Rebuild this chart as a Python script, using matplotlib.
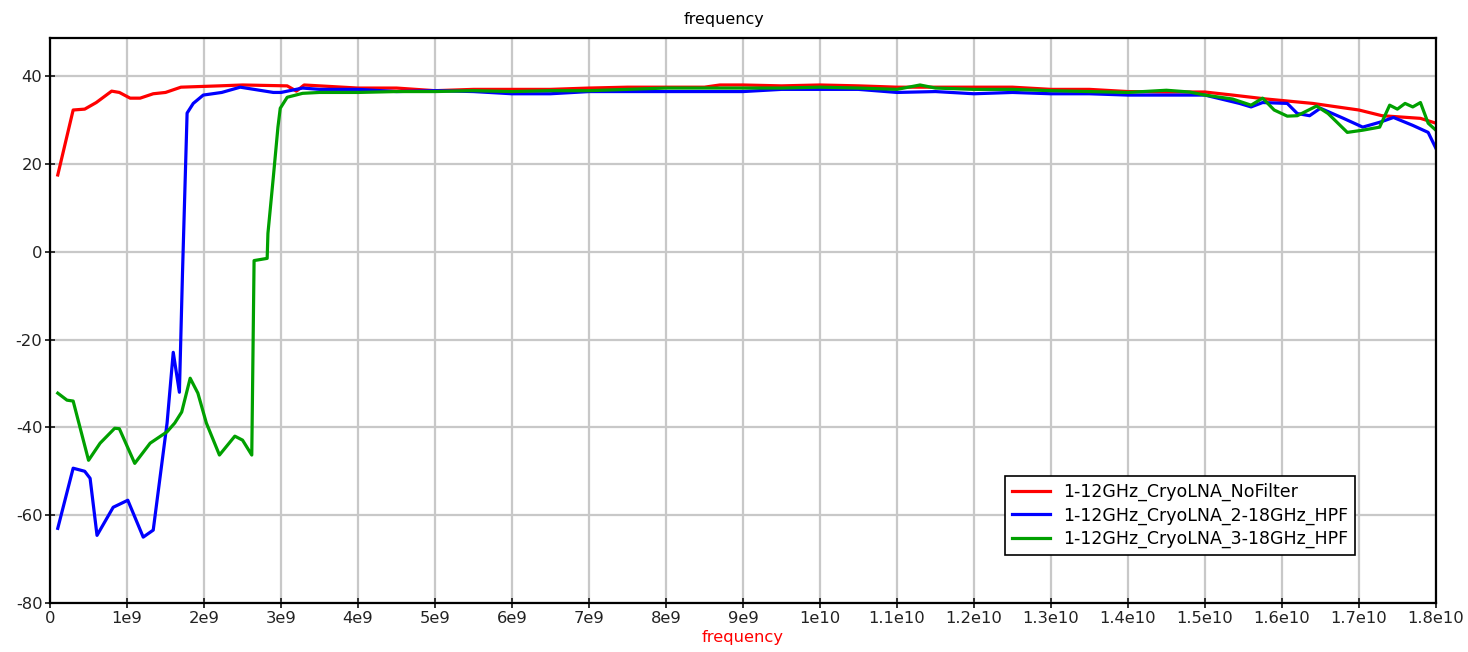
import matplotlib
matplotlib.use("Agg")
from matplotlib import pyplot as plt

# frequency in GHz, gain in dB
f_nofilter = [0.1, 0.3, 0.45, 0.6, 0.8, 0.9, 1.04, 1.17, 1.34, 1.5, 1.7, 2.2, 2.5, 3.08, 3.2, 3.3,
              4.0, 4.5, 5.0, 5.5, 6.0, 6.5, 7.0, 7.5, 8.0, 8.5, 8.7, 9.0, 9.5, 10.0, 10.5, 11.0,
              11.5, 12.0, 12.5, 13.0, 13.5, 14.0, 14.5, 15.0, 15.36, 15.8, 16.4, 17.0, 17.3, 17.8, 18.0]
g_nofilter = [17.5, 32.3, 32.5, 34, 36.6, 36.3, 35, 35, 36, 36.3, 37.5, 37.8, 38, 37.8, 36.6, 38,
              37.3, 37.3, 36.7, 37, 37, 37, 37.3, 37.5, 37.5, 37.5, 38, 38, 37.8, 38, 37.8, 37.5,
              37.5, 37.5, 37.5, 37, 37, 36.5, 36.4, 36.4, 35.7, 34.8, 33.8, 32.3, 31, 30.4, 29.3]

f_hpf2 = [0.1, 0.3, 0.45, 0.52, 0.61, 0.82, 1.01, 1.21, 1.34, 1.52, 1.6, 1.68, 1.72, 1.78, 1.86,
          1.99, 2.23, 2.47, 2.9, 3.0, 3.28, 3.5, 4.0, 4.5, 5.0, 5.5, 6.0, 6.5, 7.0, 7.5, 8.0, 8.5,
          9.0, 9.5, 10.0, 10.5, 11.0, 11.5, 12.0, 12.5, 13.0, 13.5, 14.0, 14.3, 15.0, 15.45, 15.6,
          15.75, 16.07, 16.2, 16.36, 16.5, 16.8, 17.05, 17.27, 17.45, 17.7, 17.9, 18.0]
g_hpf2 = [-63, -49.3, -50, -51.6, -64.6, -58.2, -56.6, -65, -63.4, -39, -22.9, -32, -5, 31.6, 33.8,
          35.7, 36.3, 37.5, 36.3, 36.3, 37.3, 37, 37, 36.5, 36.7, 36.5, 36, 36, 36.5, 36.5, 36.5, 36.5,
          36.5, 37, 37, 37, 36.3, 36.5, 36, 36.3, 36, 36, 35.7, 35.7, 35.7, 33.8, 33,
          34, 33.8, 31.5, 31, 32.7, 30.4, 28.4, 29.5, 30.6, 28.8, 27.2, 23.6]

f_hpf3 = [0.1, 0.22, 0.3, 0.5, 0.65, 0.84, 0.9, 1.1, 1.3, 1.52, 1.62, 1.71, 1.82, 1.92, 2.03, 2.2,
          2.4, 2.5, 2.62, 2.65, 2.82, 2.83, 2.9, 2.96, 2.99, 3.08, 3.28, 3.5, 4.0, 4.5, 5.0, 5.5,
          6.0, 6.5, 7.0, 7.5, 8.0, 8.5, 9.0, 9.5, 10.0, 10.5, 11.0, 11.3, 11.5, 12.0, 12.5, 13.0,
          13.5, 14.0, 14.5, 14.8, 15.0, 15.36, 15.6, 15.75, 15.9, 16.07, 16.2, 16.45, 16.6, 16.85,
          17.05, 17.27, 17.4, 17.5, 17.6, 17.7, 17.8, 17.9, 18.0]
g_hpf3 = [-32.2, -33.8, -34, -47.5, -43.6, -40.2, -40.3, -48.2, -43.6, -41, -39, -36.5, -28.8, -32.2,
          -39, -46.3, -42, -42.9, -46.3, -2, -1.5, 4.2, 17, 28.4, 32.7, 35.2, 36.1, 36.3, 36.3, 36.5,
          36.5, 36.7, 36.5, 36.7, 36.7, 37, 37.3, 37.3, 37.3, 37.3, 37.5, 37.3, 37, 38, 37.3, 37,
          37, 36.7, 36.5, 36.3, 36.8, 36.4, 35.7, 34.8, 33.4, 35, 32.3, 30.9, 31, 33.2, 31.5, 27.2,
          27.7, 28.4, 33.4, 32.5, 33.8, 33, 34, 29.3, 27.7]

labels = ["1-12GHz_CryoLNA_NoFilter", "1-12GHz_CryoLNA_2-18GHz_HPF", "1-12GHz_CryoLNA_3-18GHz_HPF"]
xticks_ghz = [0, 1, 2, 3, 4, 5, 6, 7, 8, 9, 10, 11, 12, 13, 14, 15, 16, 17, 18]
xtick_labels = ["0", "1e9", "2e9", "3e9", "4e9", "5e9", "6e9", "7e9", "8e9", "9e9", "1e10",
                "1.1e10", "1.2e10", "1.3e10", "1.4e10", "1.5e10", "1.6e10", "1.7e10", "1.8e10"]
yticks = [-80, -60, -40, -20, 0, 20, 40]

plt.rcParams['font.family'] = ['DejaVu Sans']
plt.rcParams['axes.unicode_minus'] = False
fig = plt.figure(figsize=(14.68, 6.52), dpi=100)
ax = fig.add_axes([0.0341, 0.0752, 0.944, 0.8665])

lw = 2.3
ax.plot([f * 1e9 for f in f_nofilter], g_nofilter, color='#ff0000', lw=lw, label=labels[0])
ax.plot([f * 1e9 for f in f_hpf2], g_hpf2, color='#0000ff', lw=lw, label=labels[1])
ax.plot([f * 1e9 for f in f_hpf3], g_hpf3, color='#00a000', lw=lw, label=labels[2])

ax.set_xlim(0, 18e9)
ax.set_ylim(-80, 48.7)
ax.set_xticks([t * 1e9 for t in xticks_ghz])
ax.set_xticklabels(xtick_labels)
ax.set_yticks(yticks)
ax.grid(True, color='#c8c8c8', lw=1.6)
ax.set_axisbelow(True)
ax.tick_params(direction='inout', length=7, width=1.3, labelsize=11.8, colors='#222222', pad=2)
for s in ax.spines.values():
    s.set_linewidth(1.6)

ax.set_title("frequency", fontsize=11.5, pad=10, x=0.486)
ax.set_xlabel("frequency", color='#ff0000', fontsize=11.8, labelpad=3)

leg = ax.legend(loc='upper left', bbox_to_anchor=(0.689, 0.2248), fontsize=12.5, frameon=True,
                fancybox=False, framealpha=1, edgecolor='black', borderpad=0.4,
                borderaxespad=0, handlelength=2.2, labelspacing=0.3, handletextpad=0.75)
leg.get_frame().set_linewidth(1.2)

fig.savefig("out.png", dpi=100)
